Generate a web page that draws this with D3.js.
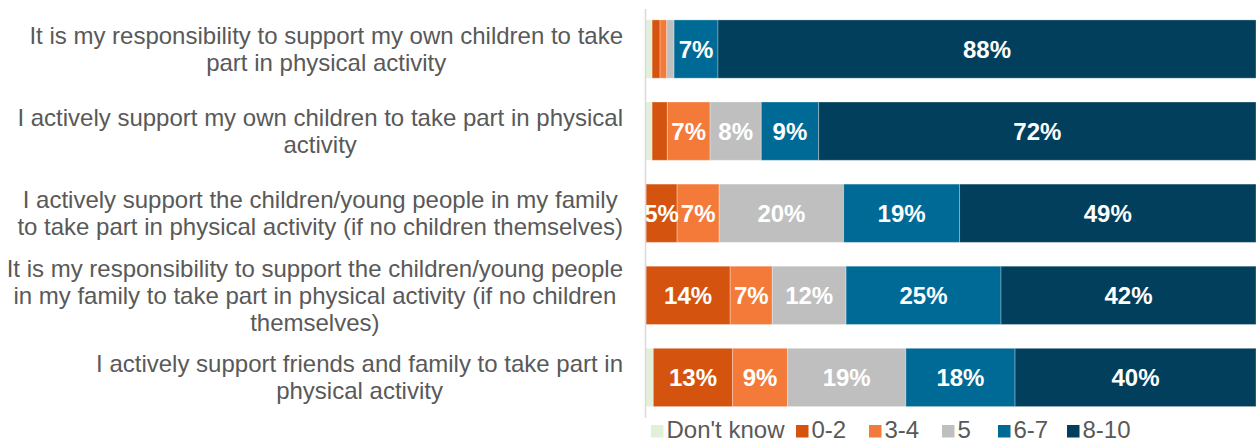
<!DOCTYPE html>
<html>
<head>
<meta charset="utf-8">
<script src="https://cdn.jsdelivr.net/npm/d3@7"></script>
<style>
  html, body { margin: 0; padding: 0; background: #fff; }
  svg { display: block; font-family: "Liberation Sans", Arial, sans-serif; }
</style>
</head>
<body>
<svg id="chart" width="1256" height="439"></svg>
<script>
// ---- data ----
const categories = [
  ["It is my responsibility to support my own children to take", "part in physical activity"],
  ["I actively support my own children to take part in physical", "activity"],
  ["I actively support the children/young people in my family", "to take part in physical activity (if no children themselves)"],
  ["It is my responsibility to support the children/young people", "in my family to take part in physical activity (if no children", "themselves)"],
  ["I actively support friends and family to take part in", "physical activity"]
];
const seriesNames = ["Don't know", "0-2", "3-4", "5", "6-7", "8-10"];
const seriesColors = ["#E2EFD9", "#D4540F", "#F47A3A", "#BFBFBF", "#006A96", "#023F5C"];
const dontKnow = [1.0, 1.0, 0.0, 0.0, 1.2];
const score0to2 = [1.3, 2.5, 5.1, 13.8, 13.0];
const score3to4 = [1.1, 7.0, 6.9, 6.9, 9.0];
const score5 = [1.2, 8.4, 20.4, 12.1, 19.4];
const score6to7 = [7.2, 9.4, 19.0, 25.4, 17.9];
const score8to10 = [88.2, 71.7, 48.6, 41.8, 39.5];
const seriesValues = [dontKnow, score0to2, score3to4, score5, score6to7, score8to10];

// ---- layout ----
const svg = d3.select("#chart");
const x = d3.scaleLinear().domain([0, 100]).range([646, 1256]);
const y = d3.scaleBand().domain(d3.range(categories.length)).range([8, 418.5]).paddingInner(0.29).paddingOuter(0.145);

const rows = categories.map((c, i) => {
  let acc = 0;
  return seriesValues.map((vals, s) => {
    const v = vals[i];
    const seg = { row: i, s, x0: acc, x1: acc + v, v };
    acc += v;
    return seg;
  });
});

const g = svg.append("g");
rows.forEach(segs => {
  g.selectAll(null).data(segs.filter(d => d.v > 0)).enter().append("rect")
    .attr("x", d => x(d.x0))
    .attr("width", d => x(d.x1) - x(d.x0))
    .attr("y", d => y(d.row))
    .attr("height", y.bandwidth())
    .attr("fill", d => seriesColors[d.s])
    .attr("stroke", "rgba(255,255,255,0.3)")
    .attr("stroke-width", 1);
  g.selectAll(null).data(segs.filter(d => Math.round(d.v) >= 5)).enter().append("text")
    .attr("x", d => (x(d.x0) + x(d.x1)) / 2)
    .attr("y", d => y(d.row) + y.bandwidth() / 2)
    .attr("dy", "0.36em")
    .attr("text-anchor", "middle")
    .attr("fill", "#fff")
    .attr("font-weight", "bold")
    .attr("font-size", 24)
    .text(d => Math.round(d.v) + "%");
});

// axis line
svg.append("line")
  .attr("x1", 645.5).attr("x2", 645.5)
  .attr("y1", 9).attr("y2", 418)
  .attr("stroke", "#D9D9D9").attr("stroke-width", 1.5);

// category labels
const lineH = 27;
categories.forEach((lines, i) => {
  const t = svg.append("text")
    .attr("font-size", 24)
    .attr("fill", "#595959")
    .attr("text-anchor", "middle");
  const cy = y(i) + y.bandwidth() / 2;
  const spans = lines.map((ln, k) => t.append("tspan")
    .attr("y", cy + (k - (lines.length - 1) / 2) * lineH)
    .attr("dy", "0.35em")
    .text(ln));
  const w = d3.max(spans, s => s.node().getComputedTextLength());
  const cx = 623 - w / 2;
  spans.forEach(s => s.attr("x", cx));
});

// legend
const legendX = [651, 796, 869, 942, 998, 1067];
const lg = svg.append("g");
seriesNames.forEach((n, i) => {
  lg.append("rect")
    .attr("x", legendX[i]).attr("y", 425)
    .attr("width", 12.5).attr("height", 12.5)
    .attr("fill", seriesColors[i]);
  lg.append("text")
    .attr("x", legendX[i] + 15.5).attr("y", 438)
    .attr("font-size", 24)
    .attr("fill", "#595959")
    .text(n);
});
</script>
</body>
</html>
